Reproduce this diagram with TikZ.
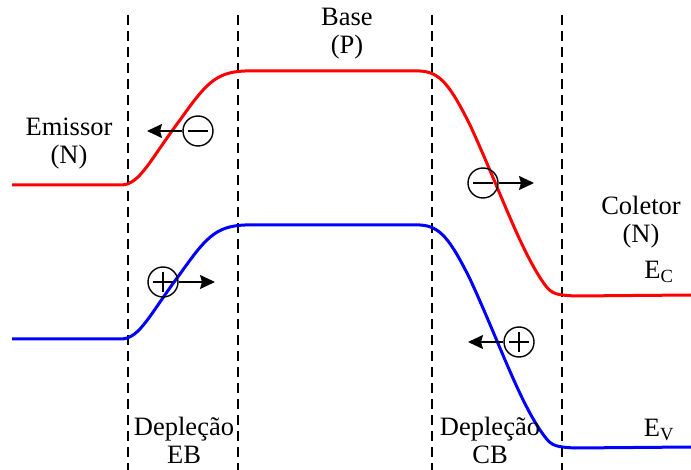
\documentclass[tikz,border=0pt]{standalone}
\usepackage{fontspec}
\setmainfont{Liberation Serif}
\usetikzlibrary{positioning, arrows.meta, calc}

\begin{document}
\begin{tikzpicture}[
        x=1pt, y=-1pt,
        txt/.style={align=center, font=\fontsize{26.5}{28}\selectfont, inner sep=0pt},
        border/.style={dashed, line width=1.4pt, dash pattern=on 10pt off 6pt},
        band/.style={line width=3pt},
        charge/.style={draw, circle, line width=1.4pt, minimum size=30pt, inner sep=0pt},
        electron/.style={charge, path picture={\draw[line width=1.4pt] ($(path picture bounding box.center)+(-10,0)$) -- ($(path picture bounding box.center)+(10,0)$);}},
        hole/.style={charge, path picture={\draw[line width=1.4pt] ($(path picture bounding box.center)+(-10,0)$) -- ($(path picture bounding box.center)+(10,0)$) ($(path picture bounding box.center)+(0,-10)$) -- ($(path picture bounding box.center)+(0,10)$);}},
        arrow/.style={-{Stealth[length=15pt, width=14pt, inset=2pt]}, line width=1.6pt}
    ]
    \useasboundingbox (0,0) rectangle (691,470);

    % Depletion borders
    \draw[border] (128,15) -- (128,470);
    \draw[border] (238,15) -- (238,470);
    \draw[border] (432,15) -- (432,470);
    \draw[border] (562,15) -- (562,470);

    % Conduction band
    \draw[band, red] (12,185) -- (122,185)
        .. controls (140,184) and (150,160) .. (180,120)
        .. controls (205,85) and (215,72) .. (245,71)
        -- (420,71)
        .. controls (440,72) and (450,85) .. (470,125)
        .. controls (500,190) and (520,250) .. (545,285)
        .. controls (552,294) and (556,295) .. (575,296)
        -- (691,295);

    % Valence band
    \draw[band, blue] (12,339) -- (122,339)
        .. controls (140,338) and (150,314) .. (180,274)
        .. controls (205,239) and (215,226) .. (245,225)
        -- (420,225)
        .. controls (440,226) and (450,239) .. (470,279)
        .. controls (500,344) and (520,404) .. (545,437)
        .. controls (552,446) and (556,447) .. (575,448)
        -- (691,447);

    % Carriers
    \node[electron] (e1) at (198,131) {};
    \node[hole] (h1) at (163,282) {};
    \node[electron] (e2) at (483,183) {};
    \node[hole] (h2) at (519,342) {};
    \coordinate (e1end) at (147,131);
    \coordinate (h1end) at (215,282);
    \coordinate (e2end) at (534,183);
    \coordinate (h2end) at (468,342);
    \draw[arrow] (e1.west) -- (e1end);
    \draw[arrow] (h1.east) -- (h1end);
    \draw[arrow] (e2.east) -- (e2end);
    \draw[arrow] (h2.west) -- (h2end);

    % Region labels
    \node[txt] (emissor) at (69,144) {Emissor\\(N)};
    \node[txt] (base) at (347,34) {Base\\(P)};
    \node[txt] (coletor) at (641,222) {Coletor\\(N)};
    \node[txt] (depEB) at (184,440) {Depleção\\EB};
    \node[txt] (depCB) at (490,440) {Depleção\\CB};
    \node[txt] (ec) at (659,272) {E\textsubscript{C}};
    \node[txt] (ev) at (659,430) {E\textsubscript{V}};

\end{tikzpicture}
\end{document}
